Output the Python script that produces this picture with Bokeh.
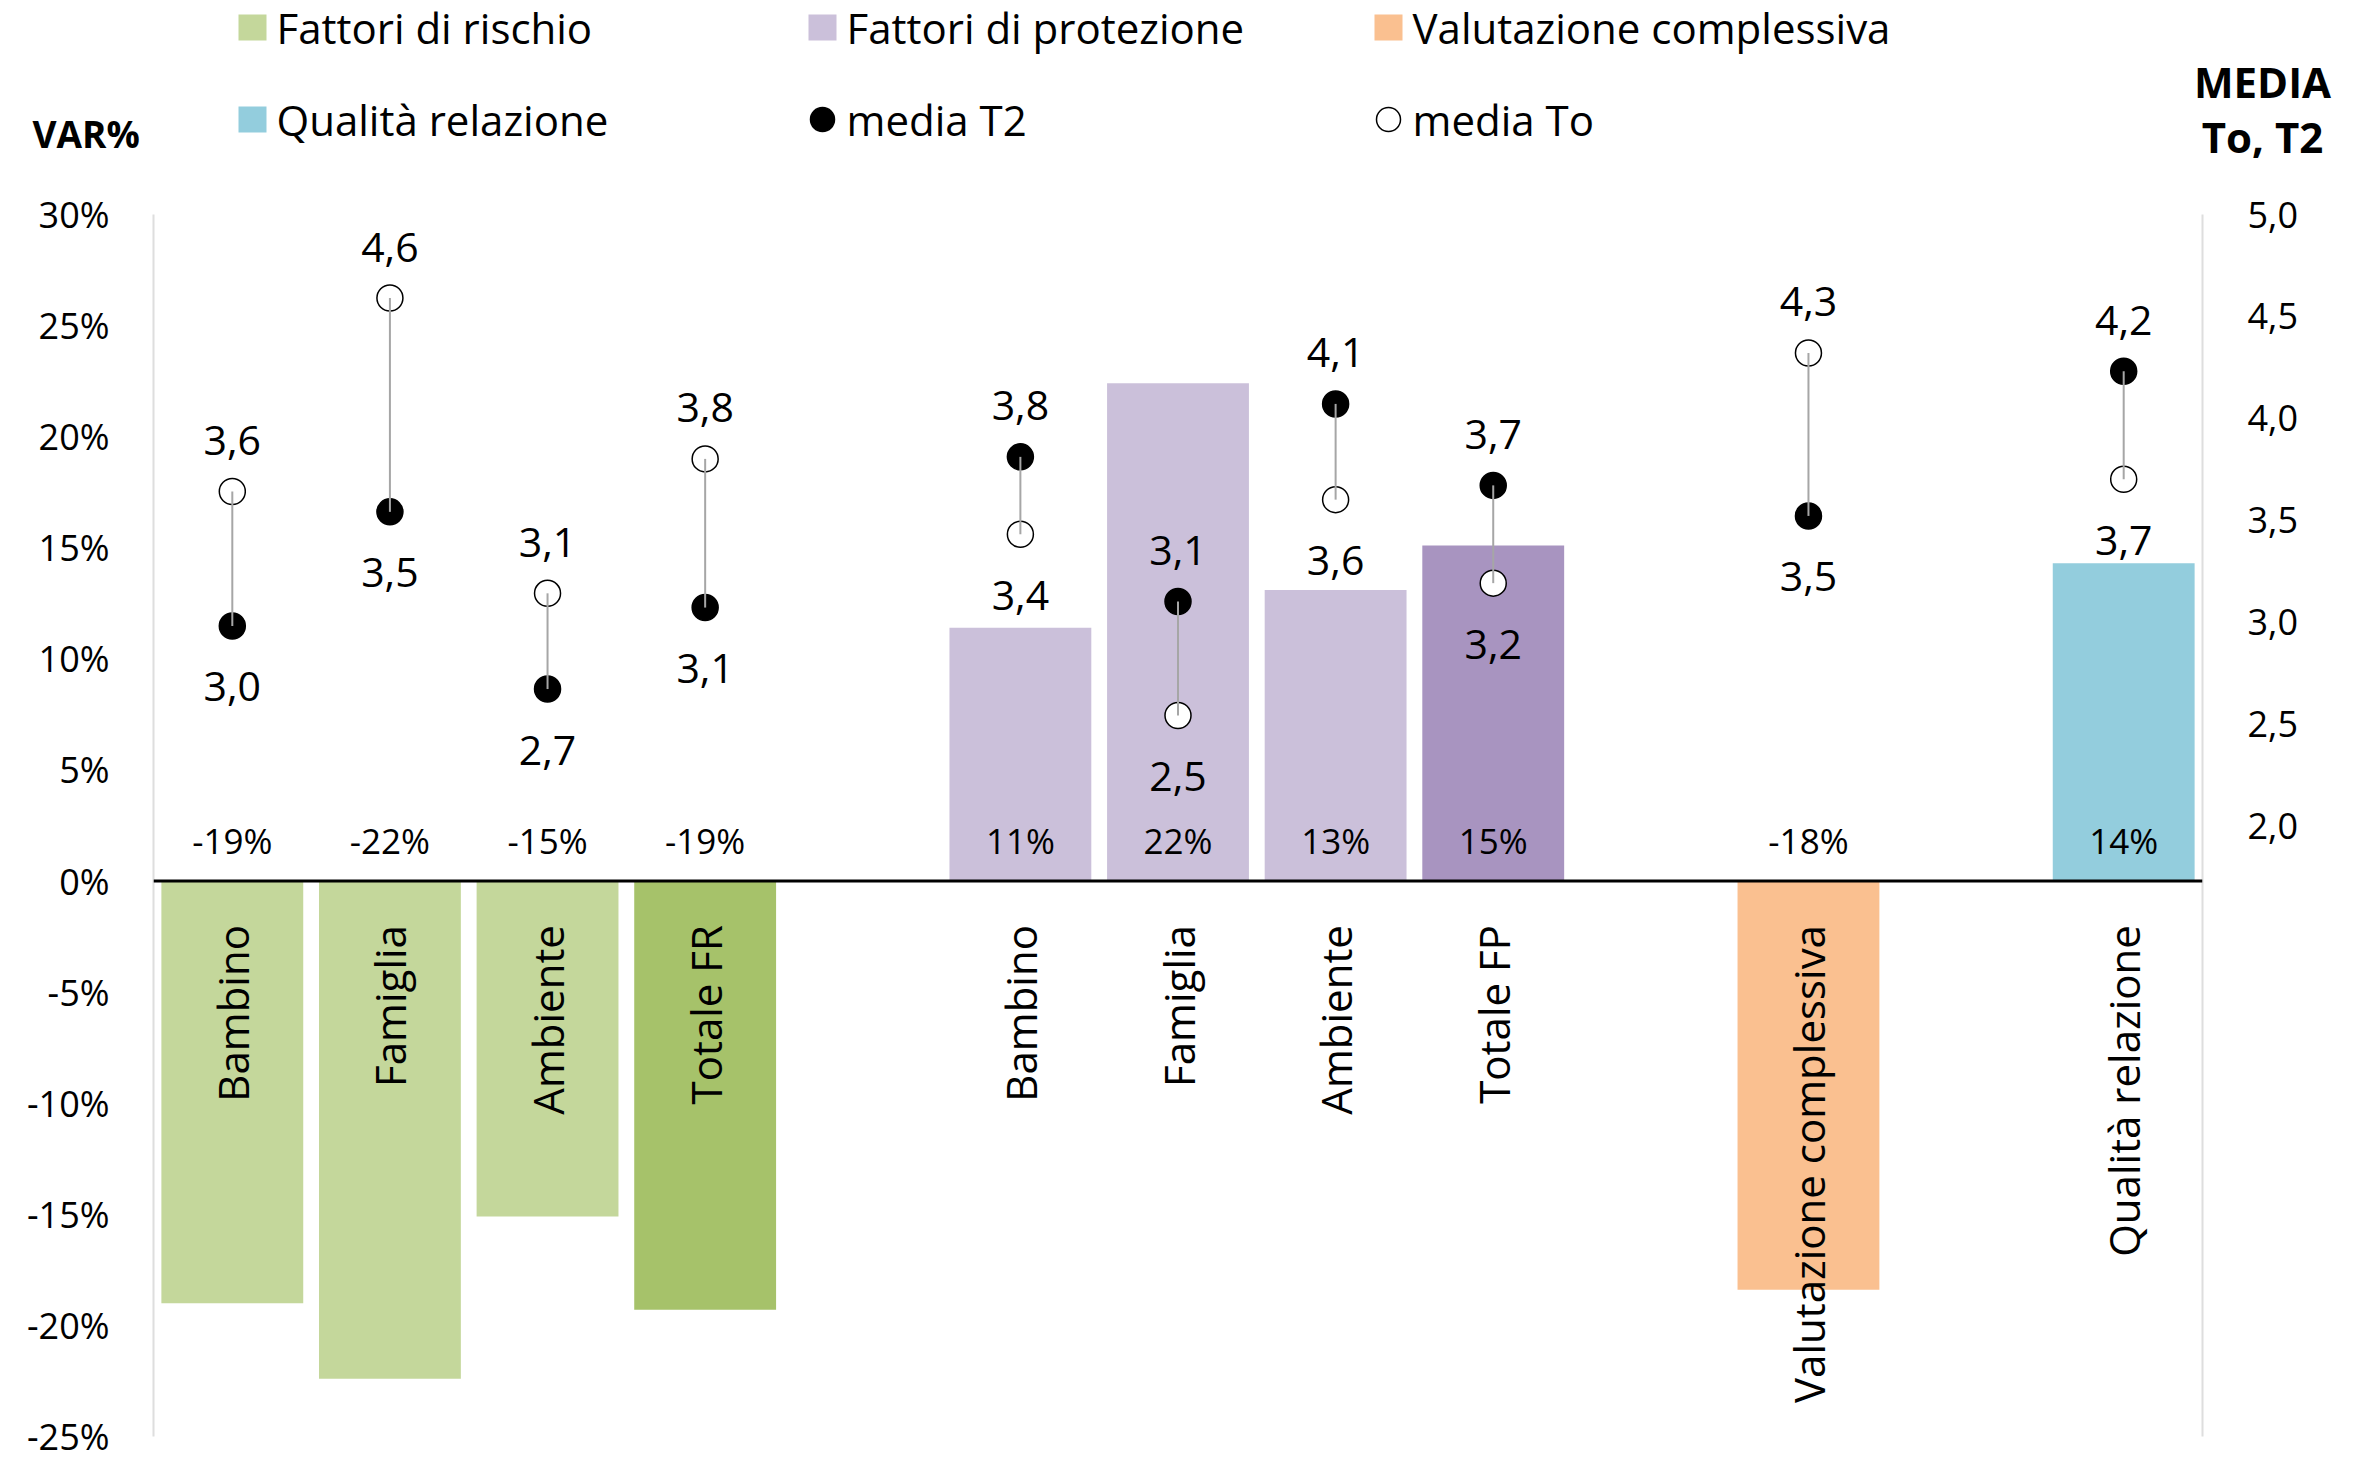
import math

from bokeh.core.properties import value
from bokeh.embed import file_html
from bokeh.layouts import column
from bokeh.models import (ColumnDataSource, CustomJSTickFormatter, FixedTicker,
                          LinearAxis, NumeralTickFormatter, Range1d, Span)
from bokeh.plotting import figure
from bokeh.resources import INLINE

FONT = "Open Sans"

# ---------------------------------------------------------------- data
groups = ["FR", "FR", "FR", "FR", "FP", "FP", "FP", "FP", "VC", "QR"]
categories = ["Bambino", "Famiglia", "Ambiente", "Totale FR",
              "Bambino", "Famiglia", "Ambiente", "Totale FP",
              "Valutazione complessiva", "Qualità relazione"]
is_total = [False, False, False, True, False, False, False, True, False, False]

# percentage change between the two surveys
var_pct = [-19.0, -22.4, -15.1, -19.3, 11.4, 22.4, 13.1, 15.1, -18.4, 14.3]
# mean scores at To and T2
media_t0 = [3.64, 4.59, 3.14, 3.80, 3.43, 2.54, 3.60, 3.19, 4.32, 3.70]
media_t2 = [2.98, 3.54, 2.67, 3.07, 3.81, 3.10, 4.07, 3.67, 3.52, 4.23]

group_colors = {"FR": "#c4d79b", "FP": "#cbc0da", "VC": "#fac090", "QR": "#93cddd"}
total_colors = {"FR": "#a6c26a", "FP": "#a894c0"}

legend_labels = ["Fattori di rischio", "Fattori di protezione", "Valutazione complessiva",
                 "Qualità relazione", "media T2", "media To"]
legend_fill = [group_colors["FR"], group_colors["FP"], group_colors["VC"],
               group_colors["QR"], "black", "white"]
legend_shape = ["square", "square", "square", "square", "circle", "circle"]

var_min, var_max = -0.25, 0.30
media_min, media_max = -1.0, 5.0
var_ticks = [k / 100 for k in range(-25, 31, 5)]
media_ticks = [k / 2 for k in range(4, 11)]

# ---------------------------------------------------------------- layout
W, H = 2368, 1467
H_HEAD = 182
FRAME_LEFT, FRAME_RIGHT = 153, 2202
FRAME_TOP, FRAME_BOTTOM = 214, 1436

# x slots: one empty slot between consecutive groups
xpos = []
slot, prev = 0, None
for g in groups:
    if prev is not None and g != prev:
        slot += 1
    xpos.append(slot)
    slot += 1
    prev = g
n_slots = slot


def it_fmt(v):
    return f"{v:.1f}".replace(".", ",")


colors = [total_colors[g] if t else group_colors[g] for g, t in zip(groups, is_total)]
hi = [max(a, b) for a, b in zip(media_t0, media_t2)]
lo = [min(a, b) for a, b in zip(media_t0, media_t2)]

src = ColumnDataSource(dict(
    x=xpos,
    cat=categories,
    var=[v / 100 for v in var_pct],
    var_txt=[f"{round(v)}%" for v in var_pct],
    zero=[0.0] * len(xpos),
    color=colors,
    t0=media_t0,
    t2=media_t2,
    hi=hi,
    lo=lo,
    hi_txt=[it_fmt(v) for v in hi],
    lo_txt=[it_fmt(v) for v in lo],
))

# ---------------------------------------------------------------- chart
p = figure(width=W, height=H - H_HEAD,
           x_range=Range1d(-0.5, n_slots - 0.5),
           y_range=Range1d(var_min, var_max),
           output_backend="svg", toolbar_location=None,
           x_axis_location=None, y_axis_location=None,
           min_border_left=FRAME_LEFT, min_border_right=W - FRAME_RIGHT,
           min_border_top=FRAME_TOP - H_HEAD, min_border_bottom=H - FRAME_BOTTOM)
p.frame_align = False
p.extra_y_ranges = {"media": Range1d(media_min, media_max)}
p.outline_line_color = None
p.xgrid.visible = False
p.ygrid.visible = False

left = LinearAxis(ticker=FixedTicker(ticks=var_ticks),
                  formatter=NumeralTickFormatter(format="0%"))
right = LinearAxis(y_range_name="media", ticker=FixedTicker(ticks=media_ticks),
                   formatter=CustomJSTickFormatter(code="return tick.toFixed(1).replace('.', ',');"))
for ax, standoff in ((left, 44), (right, 45)):
    ax.axis_line_color = "#dedede"
    ax.axis_line_width = 2
    ax.major_tick_line_color = None
    ax.minor_tick_line_color = None
    ax.major_tick_out = 0
    ax.major_tick_in = 0
    ax.major_label_standoff = standoff
    ax.major_label_text_font = FONT
    ax.major_label_text_font_size = "36px"
    ax.major_label_text_color = "black"
p.add_layout(left, "left")
p.add_layout(right, "right")

# bars of percentage change
p.vbar(x="x", top="var", bottom=0, width=0.9, fill_color="color",
       line_color=None, source=src)
p.add_layout(Span(location=0, dimension="width", line_color="black", line_width=3))

# percentage labels just above the zero line
p.text(x="x", y="zero", text="var_txt", source=src, text_align="center",
       text_baseline="alphabetic", y_offset=-41, text_font=value(FONT),
       text_font_size="35px", text_color="black")

# rotated category names below the zero line
p.text(x="x", y="zero", text="cat", source=src, angle=math.pi / 2,
       text_align="right", text_baseline="middle", y_offset=44,
       text_font=value(FONT), text_font_size="42px", text_color="black")

# mean markers and their connecting lines
p.scatter(x="x", y="t2", y_range_name="media", source=src, marker="circle",
          size=26, fill_color="black", line_color="black", line_width=1.5)
p.scatter(x="x", y="t0", y_range_name="media", source=src, marker="circle",
          size=26, fill_color="white", line_color="black", line_width=1.5)
p.segment(x0="x", y0="t0", x1="x", y1="t2", y_range_name="media", source=src,
          line_color="#a6a6a6", line_width=2)

p.text(x="x", y="hi", y_range_name="media", text="hi_txt", source=src,
       text_align="center", text_baseline="alphabetic", y_offset=-51,
       text_font=value(FONT), text_font_size="41px", text_color="black")
p.text(x="x", y="lo", y_range_name="media", text="lo_txt", source=src,
       text_align="center", text_baseline="alphabetic", y_offset=61,
       text_font=value(FONT), text_font_size="41px", text_color="black")

# ---------------------------------------------------------------- header: legend and axis titles
h = figure(width=W, height=H_HEAD, x_range=Range1d(0, W), y_range=Range1d(H_HEAD, 0),
           output_backend="svg", toolbar_location=None,
           x_axis_location=None, y_axis_location=None, min_border=0)
h.frame_align = False
h.outline_line_color = None
h.xgrid.visible = False
h.ygrid.visible = False

col_x = [252, 822, 1388]
row_y = [27, 119]
lx = [col_x[i % 3] for i in range(len(legend_labels))]
ly = [row_y[i // 3] for i in range(len(legend_labels))]
sq = [i for i, s in enumerate(legend_shape) if s == "square"]
ci = [i for i, s in enumerate(legend_shape) if s == "circle"]

h.rect(x=[lx[i] for i in sq], y=[ly[i] for i in sq], width=28, height=26,
       fill_color=[legend_fill[i] for i in sq], line_color=None)
h.scatter(x=[lx[i] for i in ci], y=[ly[i] for i in ci], size=24, marker="circle",
          fill_color=[legend_fill[i] for i in ci], line_color="black", line_width=1.5)
h.text(x=[v + 24 for v in lx], y=ly, text=legend_labels, text_align="left",
       text_baseline="middle", text_font=value(FONT), text_font_size="42px",
       text_color="black")

h.text(x=[32], y=[133], text=["VAR%"], text_align="left", text_baseline="middle",
       text_font=value(FONT), text_font_style="bold", text_font_size="37px",
       text_color="black")
h.text(x=[2262, 2262], y=[81, 136], text=["MEDIA", "To, T2"], text_align="center",
       text_baseline="middle", text_font=value(FONT), text_font_style="bold",
       text_font_size="42px", text_color="black")

layout = column(h, p, spacing=0)
open("out.html", "w").write(file_html(layout, INLINE))
